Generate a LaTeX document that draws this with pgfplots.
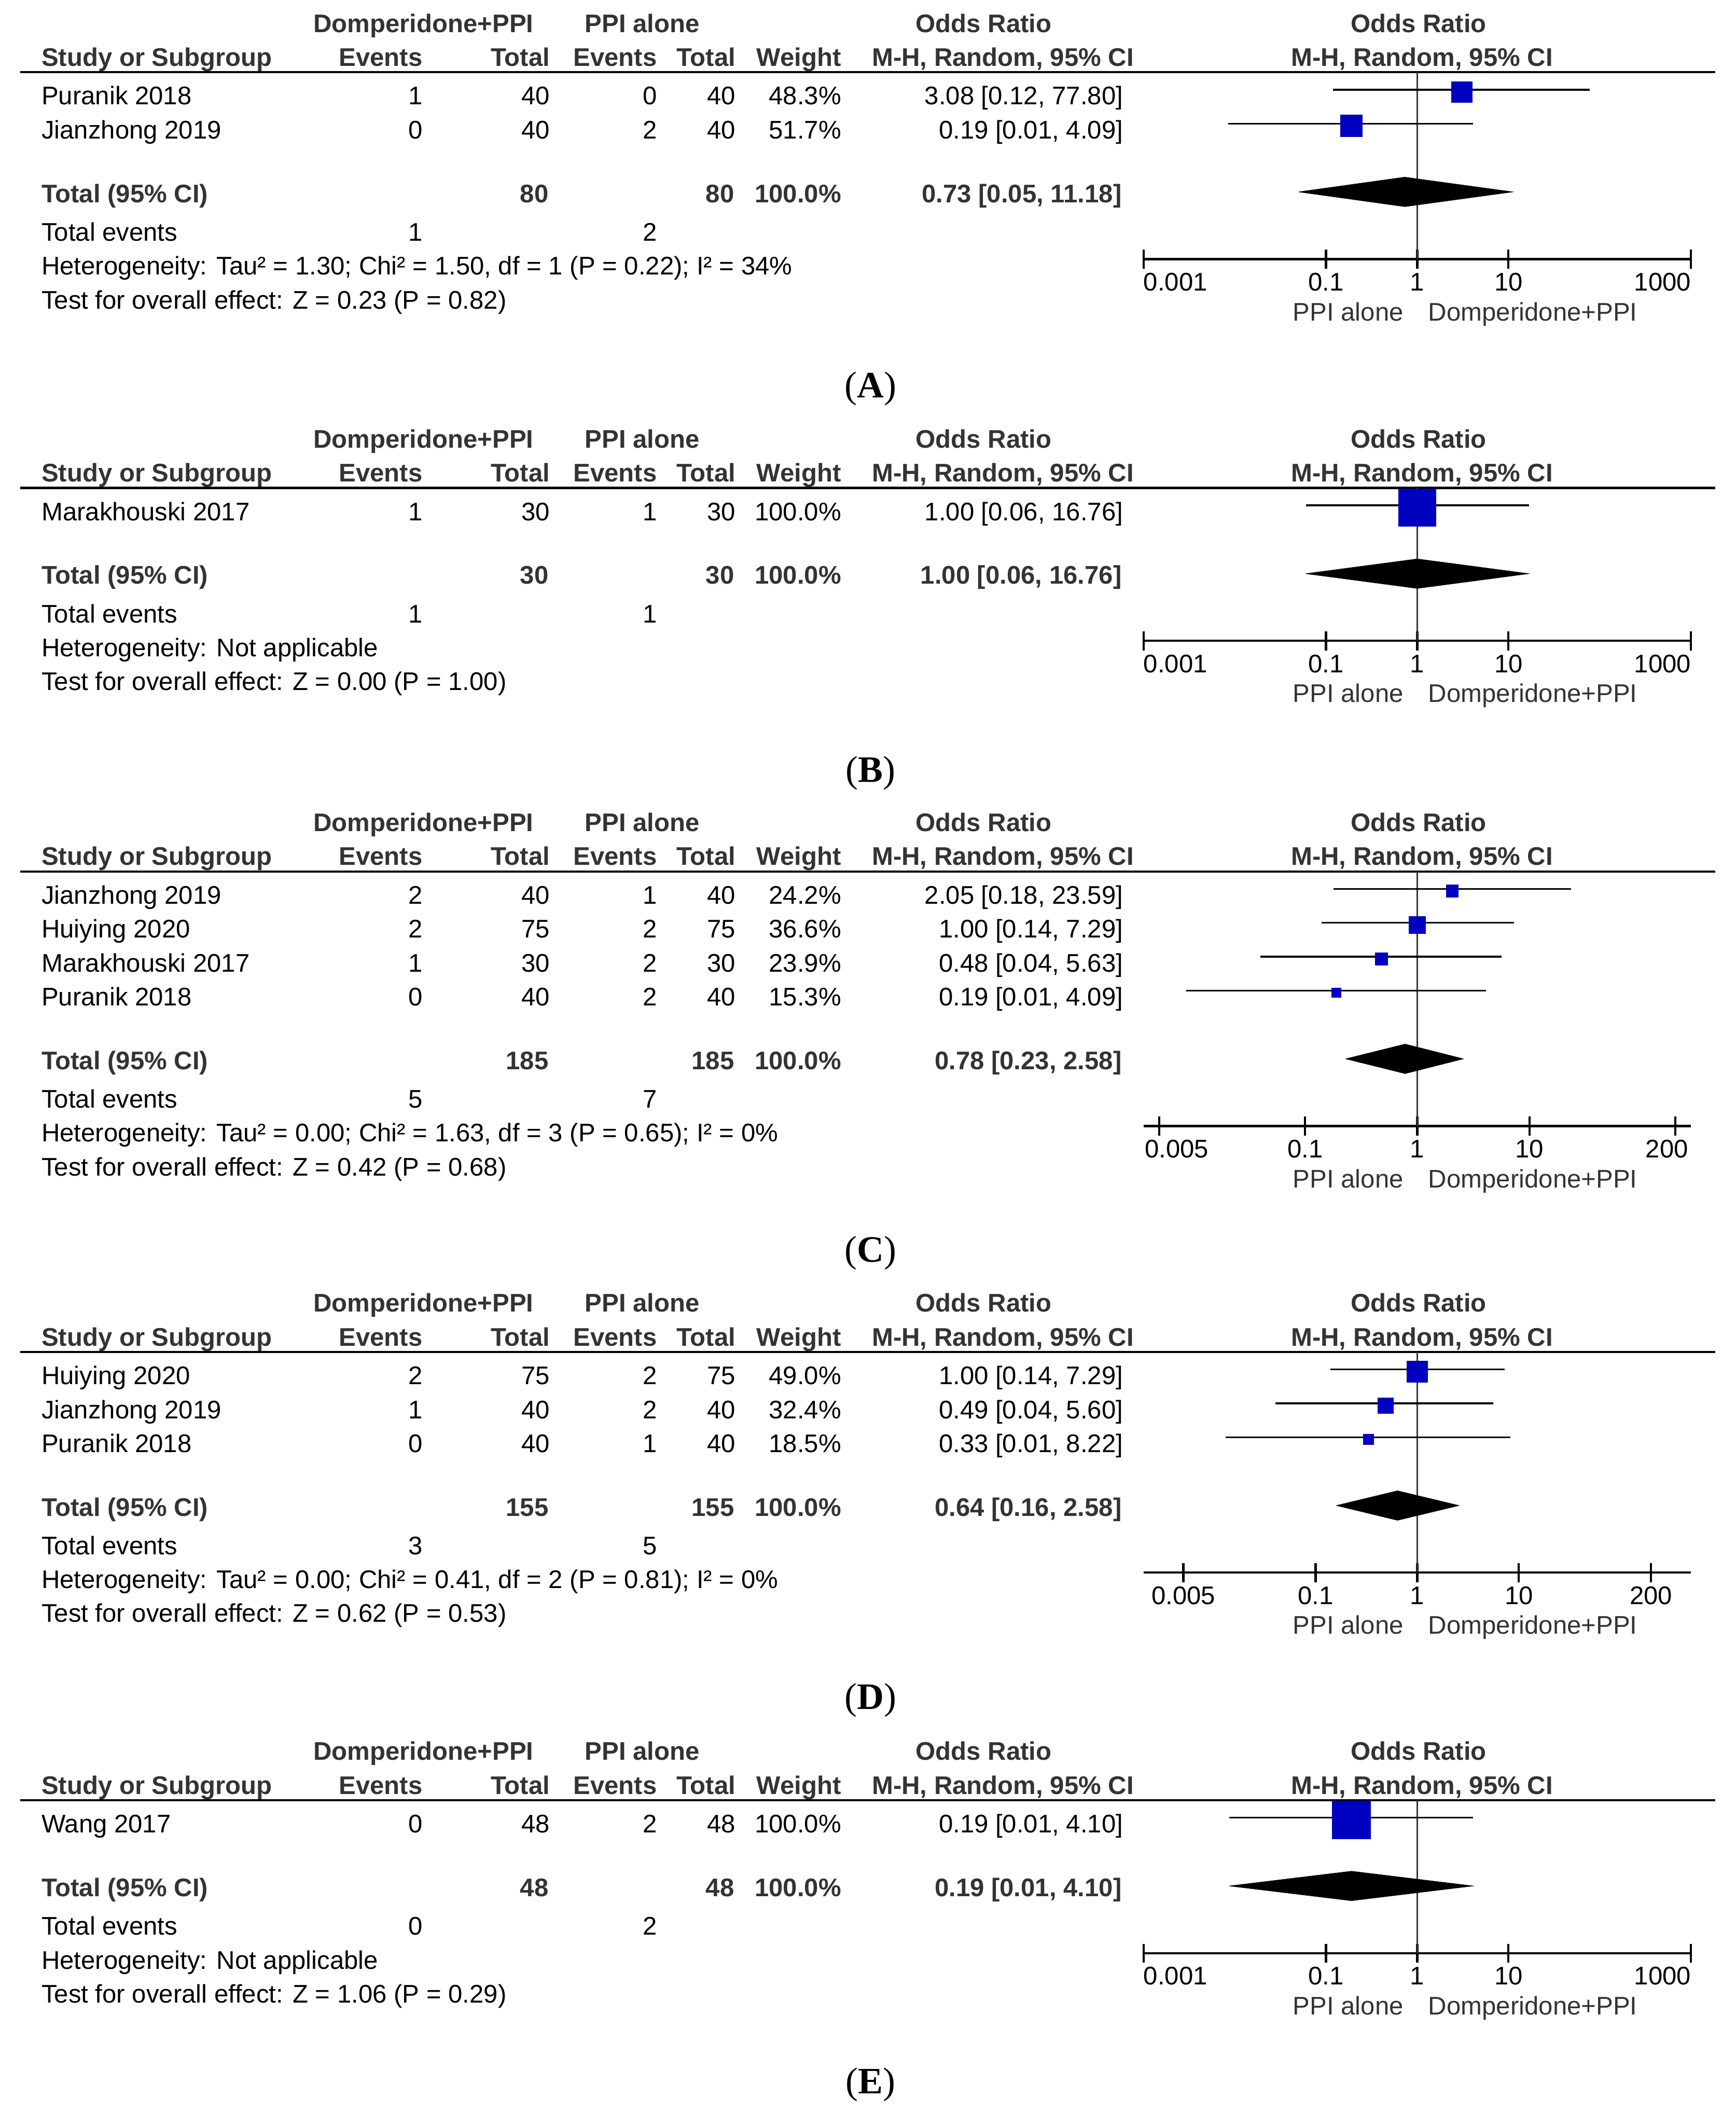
\documentclass[border=0pt]{standalone}
\usepackage{fontspec}
\setmainfont{Liberation Sans}
\newfontfamily\serif{Liberation Serif}
\usepackage{pgfplots}
\pgfplotsset{compat=1.18}

\definecolor{hdr}{RGB}{51,51,51}
\definecolor{sqblue}{RGB}{0,0,192}

% text helpers: x, baseline y (both in pt, y measured downwards)
\newcommand{\tl}[3]{\node[anchor=base west,inner sep=0pt] at (#1pt,-#2pt) {#3};}
\newcommand{\tr}[3]{\node[anchor=base east,inner sep=0pt] at (#1pt,-#2pt) {#3};}
\newcommand{\tc}[3]{\node[anchor=base,inner sep=0pt] at (#1pt,-#2pt) {#3};}

% column headers and rule, argument = rule y
\newcommand{\header}[1]{%
  \pgfmathsetmacro{\ya}{#1-29.5}\pgfmathsetmacro{\yb}{#1-4.5}%
  \begin{scope}[text=hdr,font=\bfseries]
    \tc{312.5}{\ya}{Domperidone+PPI}
    \tc{474}{\ya}{PPI alone}
    \tc{726}{\ya}{Odds Ratio}
    \tc{1047}{\ya}{Odds Ratio}
    \tl{30.5}{\yb}{Study or Subgroup}
    \tr{312}{\yb}{Events}
    \tr{406}{\yb}{Total}
    \tr{485}{\yb}{Events}
    \tr{543}{\yb}{Total}
    \tr{621}{\yb}{Weight}
    \tr{837}{\yb}{M-H, Random, 95\% CI}
    \tc{1049.5}{\yb}{M-H, Random, 95\% CI}
  \end{scope}
  \draw[line width=1.6pt] (15pt,-#1pt) -- (1266pt,-#1pt);}

% study row: y, name, events1, total1, events2, total2, weight, CI text
\newcommand{\study}[8]{%
  \tl{30.5}{#1}{#2}\tr{312}{#1}{#3}\tr{406}{#1}{#4}\tr{485}{#1}{#5}%
  \tr{543}{#1}{#6}\tr{621}{#1}{#7}\tr{829}{#1}{#8}}
% total row: y, total1, total2, CI text
\newcommand{\total}[4]{%
  \begin{scope}[text=hdr,font=\bfseries]
    \tl{30.5}{#1}{Total (95\% CI)}\tr{405}{#1}{#2}\tr{542}{#1}{#3}%
    \tr{621}{#1}{100.0\%}\tr{828}{#1}{#4}
  \end{scope}}
% total events, heterogeneity, overall effect: y, e1, e2, het text, test text
\newcommand{\foot}[5]{%
  \tl{30.5}{#1}{Total events}\tr{312}{#1}{#2}\tr{485}{#1}{#3}%
  \pgfmathsetmacro{\yc}{#1+25}\pgfmathsetmacro{\yd}{#1+50}%
  \tl{30.5}{\yc}{#4}\tl{30.5}{\yd}{#5}}
% axis side labels: axis line y
\newcommand{\sides}[1]{%
  \pgfmathsetmacro{\ye}{#1+45.4}%
  \begin{scope}[text=hdr]
    \tr{1036}{\ye}{PPI alone}\tl{1054}{\ye}{Domperidone+PPI}
  \end{scope}}
\newcommand{\plabel}[2]{\node[anchor=base,inner sep=0pt,font=\serif\fontsize{27.5}{30}\selectfont] at (642.5pt,-#1pt) {(\textbf{#2})};}

\pgfplotsset{
  fpaxis/.style={anchor=south west, scale only axis, width=404pt,
    axis x line*=bottom, axis y line=none, ytick=\empty,
    clip=false, enlargelimits=false, xminorticks=false,
    axis line style={line width=1.6pt, black},
    xtick align=center, major tick length=14pt,
    tick style={line width=1.6pt, black},
    xticklabel style={anchor=base, inner sep=0pt, yshift=-16.3pt}},
  refl/.style={color=hdr, line width=1.2pt, mark=none},
  ci/.style={color=black, line width=1.3pt, mark=none},
  sq/.style={only marks, mark=square*, color=sqblue, mark options={line width=0.3pt}},
  dia/.style={fill=black, draw=black, line width=0.3pt, mark=none},
}

\begin{document}
\fontsize{18.8}{22}\selectfont
\begin{tikzpicture}
\useasboundingbox (0pt,0pt) rectangle (1281pt,-1568pt);

% ---------------- (A) ----------------
\header{53.3}
\study{77.3}{Puranik 2018}{1}{40}{0}{40}{48.3\%}{3.08 [0.12, 77.80]}
\study{102.3}{Jianzhong 2019}{0}{40}{2}{40}{51.7\%}{0.19 [0.01, 4.09]}
\total{149.3}{80}{80}{0.73 [0.05, 11.18]}
\foot{177.8}{1}{2}{Heterogeneity: Tau² = 1.30; Chi² = 1.50, df = 1 (P = 0.22); I² = 34\%}{Test for overall effect: Z = 0.23 (P = 0.82)}
\sides{191.2}
\plabel{293.6}{A}
\begin{axis}[fpaxis, xmode=log, at={(844pt,-191.2pt)}, height=137.9pt, ymin=-191.2, ymax=-53.3,
  xmin=1e-3, xmax=1e3, xtick={0.001,0.1,1,10,1000},
  xticklabels={\makebox[0pt][l]{0.001},0.1,1,10,\makebox[0pt][r]{1000}}]
\addplot[refl] coordinates {(1,-53.3) (1,-191.2)};
\addplot[ci] coordinates {(0.12,-66.2) (77.8,-66.2)};
\addplot[ci] coordinates {(0.0085,-91.2) (4.09,-91.2)};
\addplot[sq, mark size=7.6pt] coordinates {(3.08,-67.8)};
\addplot[sq, mark size=8.05pt] coordinates {(0.19,-92.8)};
\addplot[dia] coordinates {(0.05,-141.6) (0.73,-130.7) (11.18,-141.6) (0.73,-152.5) (0.05,-141.6)};
\end{axis}

% ---------------- (B) ----------------
\header{360}
\study{384}{Marakhouski 2017}{1}{30}{1}{30}{100.0\%}{1.00 [0.06, 16.76]}
\total{431}{30}{30}{1.00 [0.06, 16.76]}
\foot{459.5}{1}{1}{Heterogeneity: Not applicable}{Test for overall effect: Z = 0.00 (P = 1.00)}
\sides{472.9}
\plabel{577}{B}
\begin{axis}[fpaxis, xmode=log, at={(844pt,-472.9pt)}, height=112.9pt, ymin=-472.9, ymax=-360,
  xmin=1e-3, xmax=1e3, xtick={0.001,0.1,1,10,1000},
  xticklabels={\makebox[0pt][l]{0.001},0.1,1,10,\makebox[0pt][r]{1000}}]
\addplot[refl] coordinates {(1,-360) (1,-472.9)};
\addplot[ci] coordinates {(0.06,-372.9) (16.76,-372.9)};
\addplot[sq, mark size=13.9pt] coordinates {(1.00,-374.5)};
\addplot[dia] coordinates {(0.06,-423.3) (1.00,-412.4) (16.76,-423.3) (1.00,-434.2) (0.06,-423.3)};
\end{axis}

% ---------------- (C) ----------------
\header{643}
\study{667}{Jianzhong 2019}{2}{40}{1}{40}{24.2\%}{2.05 [0.18, 23.59]}
\study{692}{Huiying 2020}{2}{75}{2}{75}{36.6\%}{1.00 [0.14, 7.29]}
\study{717}{Marakhouski 2017}{1}{30}{2}{30}{23.9\%}{0.48 [0.04, 5.63]}
\study{742}{Puranik 2018}{0}{40}{2}{40}{15.3\%}{0.19 [0.01, 4.09]}
\total{789}{185}{185}{0.78 [0.23, 2.58]}
\foot{817.5}{5}{7}{Heterogeneity: Tau² = 0.00; Chi² = 1.63, df = 3 (P = 0.65); I² = 0\%}{Test for overall effect: Z = 0.42 (P = 0.68)}
\sides{830.9}
\plabel{931}{C}
\begin{axis}[fpaxis, xmode=log, at={(844pt,-830.9pt)}, height=187.9pt, ymin=-830.9, ymax=-643,
  xmin=0.003631, xmax=275.4, xtick={0.005,0.1,1,10,200},
  xticklabels={\makebox[0pt][l]{\hspace*{-10.5pt}0.005},0.1,1,10,\makebox[0pt][r]{200\hspace*{-9.5pt}}}]
\addplot[refl] coordinates {(1,-643) (1,-830.9)};
\addplot[ci] coordinates {(0.18,-655.9) (23.59,-655.9)};
\addplot[ci] coordinates {(0.14,-680.9) (7.29,-680.9)};
\addplot[ci] coordinates {(0.04,-705.9) (5.63,-705.9)};
\addplot[ci] coordinates {(0.0087,-730.9) (4.09,-730.9)};
\addplot[sq, mark size=4.55pt] coordinates {(2.05,-657.5)};
\addplot[sq, mark size=6.15pt] coordinates {(1.00,-682.5)};
\addplot[sq, mark size=4.7pt] coordinates {(0.48,-707.5)};
\addplot[sq, mark size=3.55pt] coordinates {(0.19,-732.5)};
\addplot[dia] coordinates {(0.23,-781.3) (0.78,-770.4) (2.58,-781.3) (0.78,-792.2) (0.23,-781.3)};
\end{axis}

% ---------------- (D) ----------------
\header{997.6}
\study{1021.6}{Huiying 2020}{2}{75}{2}{75}{49.0\%}{1.00 [0.14, 7.29]}
\study{1046.6}{Jianzhong 2019}{1}{40}{2}{40}{32.4\%}{0.49 [0.04, 5.60]}
\study{1071.6}{Puranik 2018}{0}{40}{1}{40}{18.5\%}{0.33 [0.01, 8.22]}
\total{1118.6}{155}{155}{0.64 [0.16, 2.58]}
\foot{1147}{3}{5}{Heterogeneity: Tau² = 0.00; Chi² = 0.41, df = 2 (P = 0.81); I² = 0\%}{Test for overall effect: Z = 0.62 (P = 0.53)}
\sides{1160.4}
\plabel{1261}{D}
\begin{axis}[fpaxis, xmode=log, at={(844pt,-1160.4pt)}, height=162.8pt, ymin=-1160.4, ymax=-997.6,
  xmin=0.002028, xmax=493.2, xtick={0.005,0.1,1,10,200},
  xticklabels={0.005,0.1,1,10,200}]
\addplot[refl] coordinates {(1,-997.6) (1,-1160.4)};
\addplot[ci] coordinates {(0.14,-1010.5) (7.29,-1010.5)};
\addplot[ci] coordinates {(0.04,-1035.5) (5.60,-1035.5)};
\addplot[ci] coordinates {(0.013,-1060.5) (8.22,-1060.5)};
\addplot[sq, mark size=7.7pt] coordinates {(1.00,-1012.1)};
\addplot[sq, mark size=5.7pt] coordinates {(0.49,-1037.1)};
\addplot[sq, mark size=3.85pt] coordinates {(0.33,-1062.1)};
\addplot[dia] coordinates {(0.16,-1110.9) (0.64,-1100.0) (2.58,-1110.9) (0.64,-1121.8) (0.16,-1110.9)};
\end{axis}

% ---------------- (E) ----------------
\header{1328.3}
\study{1352.3}{Wang 2017}{0}{48}{2}{48}{100.0\%}{0.19 [0.01, 4.10]}
\total{1399.3}{48}{48}{0.19 [0.01, 4.10]}
\foot{1427.8}{0}{2}{Heterogeneity: Not applicable}{Test for overall effect: Z = 1.06 (P = 0.29)}
\sides{1441.2}
\plabel{1545}{E}
\begin{axis}[fpaxis, xmode=log, at={(844pt,-1441.2pt)}, height=112.9pt, ymin=-1441.2, ymax=-1328.3,
  xmin=1e-3, xmax=1e3, xtick={0.001,0.1,1,10,1000},
  xticklabels={\makebox[0pt][l]{0.001},0.1,1,10,\makebox[0pt][r]{1000}}]
\addplot[refl] coordinates {(1,-1328.3) (1,-1441.2)};
\addplot[ci] coordinates {(0.0087,-1341.2) (4.10,-1341.2)};
\addplot[sq, mark size=14.05pt] coordinates {(0.19,-1342.8)};
\addplot[dia] coordinates {(0.0087,-1391.6) (0.19,-1380.7) (4.10,-1391.6) (0.19,-1402.5) (0.0087,-1391.6)};
\end{axis}
\end{tikzpicture}
\end{document}
